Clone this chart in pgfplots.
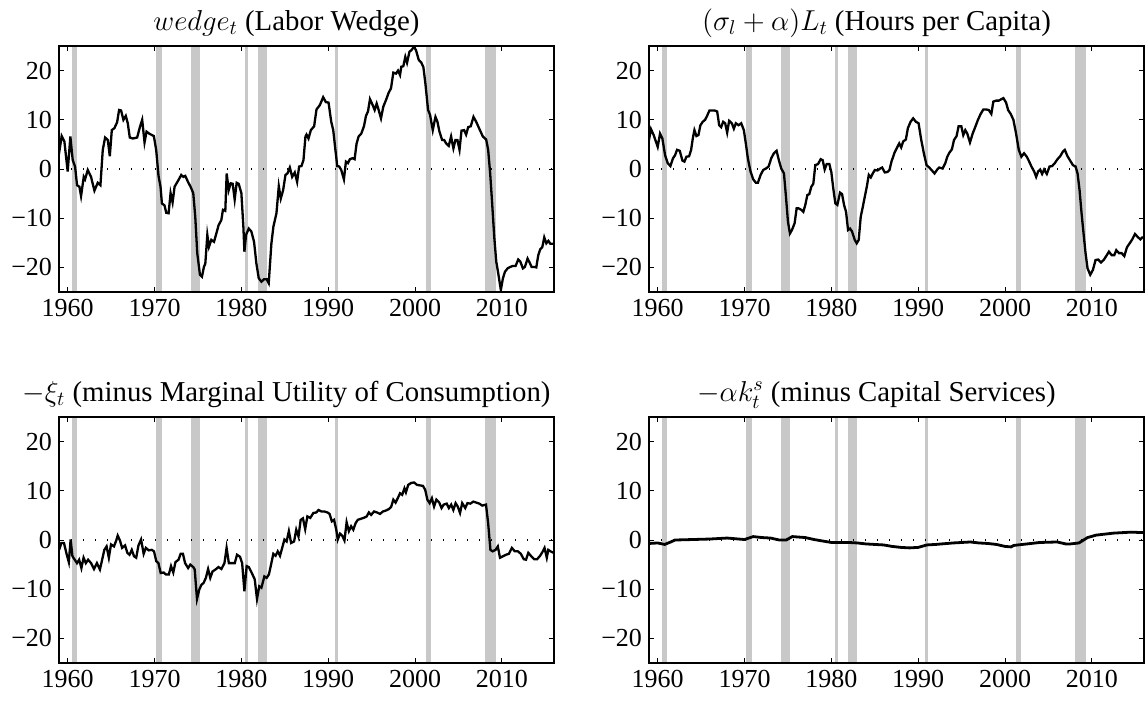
\documentclass[border=0pt]{standalone}
\usepackage{fontspec}
\setmainfont{Liberation Serif}
\usepackage{pgfplots}
\pgfplotsset{compat=1.18}
\definecolor{rec}{RGB}{200,200,200}
\newcommand{\recbar}[2]{\addplot[draw=none,fill=rec,forget plot] coordinates {(#1,-25) (#1,25) (#2,25) (#2,-25)} -- cycle;}
\newcommand{\recbars}{%
\recbar{1960.5}{1961.08}
\recbar{1970.12}{1970.88}
\recbar{1974.15}{1975.19}
\recbar{1980.38}{1980.73}
\recbar{1981.88}{1982.92}
\recbar{1990.8}{1991.15}
\recbar{2001.3}{2001.88}
\recbar{2008.08}{2009.35}
\addplot[black, line width=0.6pt, dash pattern=on 0.6pt off 5.4pt, forget plot] coordinates {(1959,0) (2016,0)};
}
\pgfplotsset{myax/.style={scale only axis, width=247.5pt, height=123pt,
  xmin=1959, xmax=2016, ymin=-25, ymax=25,
  xtick={1960,1970,1980,1990,2000,2010}, xticklabels={1960,1970,1980,1990,2000,2010},
  ytick={-20,-10,0,10,20}, yticklabels={−20,−10,0,10,20},
  tick align=inside, xtick pos=both, ytick pos=both, major tick length=2.5pt,
  axis line style={line width=0.6pt}, every tick/.style={black, line width=0.5pt},
  tick label style={font=\fontsize{13}{15}\selectfont},
  title style={font=\fontsize{14.4}{17}\selectfont, at={(0.5,1)}, anchor=base, yshift=2pt, xshift=-10pt},
  axis on top}}
\begin{document}
\begin{tikzpicture}
% top-left
\begin{axis}[myax, at={(29.5pt,-146pt)}, anchor=south west, title={$wedge_t$ (Labor Wedge)}]
\recbars
\addplot[black, line width=1.15pt] coordinates {
(1958.92,2.2) (1959.31,6.7) (1959.62,5.6) (1960.0,-0.5) (1960.31,6.6) (1960.58,1.8) (1960.85,0.5) (1961.08,-3.3) (1961.35,-3.6) (1961.54,-5.5) (1961.85,-1.6) (1962.0,-2.1) (1962.31,-0.2) (1962.69,-1.6) (1963.08,-4.4) (1963.46,-2.8) (1963.77,-3.3) (1964.04,3.9) (1964.31,6.4) (1964.62,5.9) (1964.85,2.6) (1965.08,7.9) (1965.38,8.3) (1965.69,9.5) (1965.92,12.0) (1966.15,11.9) (1966.42,10.0) (1966.69,10.8) (1966.92,9.3) (1967.15,6.4) (1967.5,6.2) (1968.0,6.4) (1968.31,8.5) (1968.58,10.0) (1968.85,5.4) (1969.08,7.6) (1969.38,7.2) (1969.92,6.7) (1970.19,3.9) (1970.46,-1.4) (1970.69,-3.6) (1970.85,-7.0) (1971.15,-7.4) (1971.35,-8.9) (1971.62,-9.0) (1971.85,-4.9) (1972.08,-6.8) (1972.31,-3.6) (1972.54,-2.9) (1972.77,-2.2) (1973.08,-1.2) (1973.31,-1.6) (1973.54,-1.4) (1973.85,-2.6) (1974.15,-3.6) (1974.46,-4.9) (1974.69,-9.7) (1974.92,-17.1) (1975.23,-21.5) (1975.46,-21.9) (1975.69,-19.9) (1975.85,-19.2) (1976.08,-13.4) (1976.27,-15.8) (1976.54,-14.4) (1976.85,-14.8) (1977.12,-13.1) (1977.38,-11.4) (1977.69,-10.4) (1977.88,-8.3) (1978.15,-8.5) (1978.31,-0.9) (1978.54,-4.3) (1978.77,-2.9) (1979.0,-3.0) (1979.23,-6.2) (1979.46,-2.8) (1979.69,-3.0) (1980.0,-4.9) (1980.23,-11.7) (1980.35,-16.8) (1980.54,-13.4) (1980.85,-12.1) (1981.15,-12.7) (1981.46,-14.8) (1981.73,-19.2) (1982.0,-22.2) (1982.31,-22.9) (1982.62,-22.4) (1982.92,-22.4) (1983.15,-23.2) (1983.46,-15.1) (1983.69,-11.7) (1984.04,-9.0) (1984.31,-3.5) (1984.54,-6.0) (1984.81,-4.3) (1985.08,-1.2) (1985.31,-0.9) (1985.58,0.3) (1985.85,-1.6) (1986.15,-0.7) (1986.42,-2.6) (1986.65,0.5) (1986.92,0.6) (1987.15,1.8) (1987.38,6.6) (1987.5,7.0) (1987.73,6.2) (1988.0,7.9) (1988.38,8.7) (1988.65,12.1) (1989.04,13.0) (1989.42,14.6) (1989.73,13.6) (1990.04,13.5) (1990.35,9.6) (1990.58,7.9) (1990.81,4.2) (1991.04,0.6) (1991.27,0.5) (1991.5,-0.2) (1991.81,-2.1) (1992.04,1.5) (1992.27,1.2) (1992.5,2.0) (1992.81,2.2) (1993.04,2.0) (1993.27,5.2) (1993.5,6.6) (1993.81,7.2) (1994.12,8.7) (1994.35,10.8) (1994.58,11.7) (1994.81,14.2) (1995.12,13.0) (1995.35,12.0) (1995.58,13.3) (1995.81,12.0) (1996.08,10.3) (1996.35,12.7) (1996.65,14.0) (1996.96,15.5) (1997.23,16.4) (1997.5,19.6) (1997.81,19.4) (1998.04,20.0) (1998.27,19.1) (1998.42,20.8) (1998.65,20.9) (1998.88,22.8) (1999.08,21.6) (1999.35,23.8) (1999.65,24.3) (1999.88,24.9) (2000.12,24.1) (2000.42,22.2) (2000.73,21.6) (2000.96,20.7) (2001.19,17.4) (2001.5,12.0) (2001.73,11.0) (2002.04,7.9) (2002.35,10.6) (2002.58,9.6) (2002.81,7.6) (2003.12,5.9) (2003.35,5.9) (2003.58,5.2) (2003.88,4.7) (2004.15,6.6) (2004.42,4.2) (2004.65,5.9) (2004.88,5.9) (2005.12,3.9) (2005.35,7.8) (2005.65,7.9) (2005.88,7.0) (2006.12,8.5) (2006.42,8.7) (2006.73,10.6) (2007.04,9.6) (2007.42,8.1) (2007.81,6.6) (2008.19,6.0) (2008.42,3.9) (2008.65,-0.9) (2008.88,-7.0) (2009.12,-13.8) (2009.35,-18.8) (2009.58,-21.2) (2009.88,-24.6) (2010.12,-22.2) (2010.35,-20.9) (2010.65,-20.2) (2010.96,-19.9) (2011.27,-19.7) (2011.58,-19.7) (2011.88,-18.4) (2012.12,-18.8) (2012.42,-20.2) (2012.65,-19.9) (2012.96,-18.2) (2013.19,-19.0) (2013.42,-19.9) (2013.73,-19.9) (2013.96,-20.0) (2014.19,-17.5) (2014.42,-16.3) (2014.65,-15.9) (2014.88,-13.9) (2015.12,-15.1) (2015.35,-14.6) (2015.58,-15.2) (2015.88,-15.2)
};
\end{axis}
% top-right
\begin{axis}[myax, at={(324.5pt,-146pt)}, anchor=south west, title={$(\sigma_l+\alpha)L_t$ (Hours per Capita)}]
\recbars
\addplot[black, line width=1.15pt] coordinates {
(1958.92,5.2) (1959.23,8.1) (1959.54,6.9) (1960.0,4.5) (1960.27,7.2) (1960.54,6.2) (1960.85,2.8) (1961.15,1.2) (1961.46,0.6) (1961.77,2.2) (1962.0,2.8) (1962.23,3.9) (1962.54,3.7) (1962.85,1.7) (1963.08,1.5) (1963.31,2.5) (1963.62,2.6) (1963.85,3.9) (1964.04,6.2) (1964.23,7.9) (1964.46,6.7) (1964.69,6.9) (1964.92,8.9) (1965.19,9.6) (1965.46,10.0) (1965.69,10.8) (1965.96,11.9) (1966.54,11.9) (1966.85,11.7) (1967.08,8.9) (1967.31,8.5) (1967.54,9.6) (1967.77,9.3) (1968.0,7.4) (1968.23,9.8) (1968.54,9.3) (1968.77,8.2) (1969.0,9.3) (1969.31,8.9) (1969.62,9.3) (1969.92,7.9) (1970.15,5.2) (1970.38,2.2) (1970.69,-0.5) (1971.0,-2.1) (1971.31,-2.8) (1971.54,-2.8) (1971.85,-1.2) (1972.15,-0.2) (1972.46,0.1) (1972.77,0.5) (1973.08,2.2) (1973.38,3.2) (1973.69,3.7) (1974.0,1.5) (1974.23,0.1) (1974.54,-0.9) (1974.77,-5.6) (1975.0,-10.7) (1975.23,-13.1) (1975.46,-12.4) (1975.77,-11.0) (1976.0,-8.0) (1976.23,-8.0) (1976.54,-8.3) (1976.77,-8.7) (1977.0,-7.3) (1977.23,-5.3) (1977.46,-5.1) (1977.69,-3.6) (1977.92,-3.0) (1978.15,0.8) (1978.46,1.0) (1978.77,2.0) (1979.0,1.8) (1979.23,-0.1) (1979.46,1.0) (1979.77,1.0) (1980.0,-0.7) (1980.23,-4.1) (1980.46,-7.0) (1980.69,-7.3) (1981.0,-4.8) (1981.23,-5.1) (1981.46,-7.3) (1981.69,-8.7) (1981.92,-12.4) (1982.15,-12.1) (1982.38,-12.7) (1982.69,-14.4) (1982.92,-15.1) (1983.15,-14.4) (1983.38,-9.7) (1983.62,-7.7) (1983.85,-5.6) (1984.08,-3.6) (1984.31,-1.2) (1984.54,-1.7) (1984.77,-0.9) (1985.0,-0.2) (1985.31,-0.3) (1985.62,0.1) (1985.85,0.3) (1986.15,-0.7) (1986.46,-0.6) (1986.69,-0.2) (1986.92,1.5) (1987.27,3.3) (1987.58,4.4) (1987.81,5.2) (1988.04,4.4) (1988.27,5.6) (1988.58,6.0) (1988.81,8.3) (1989.12,9.6) (1989.42,10.3) (1989.73,9.6) (1990.04,9.3) (1990.35,5.9) (1990.65,3.2) (1990.96,0.8) (1991.27,0.3) (1991.58,-0.3) (1991.88,-0.9) (1992.19,-0.1) (1992.42,0.3) (1992.81,0.1) (1993.12,1.2) (1993.35,2.5) (1993.58,3.3) (1993.88,4.0) (1994.12,5.9) (1994.42,6.7) (1994.65,8.7) (1994.96,8.7) (1995.19,6.9) (1995.42,7.9) (1995.65,7.2) (1995.96,5.4) (1996.27,7.2) (1996.58,8.6) (1996.88,10.0) (1997.19,11.2) (1997.5,12.1) (1997.81,12.1) (1998.12,12.0) (1998.42,11.2) (1998.65,13.7) (1998.96,13.9) (1999.27,13.9) (1999.58,14.2) (1999.81,14.4) (2000.12,13.5) (2000.35,12.0) (2000.65,11.2) (2000.96,10.0) (2001.27,7.2) (2001.58,3.9) (2001.88,2.5) (2002.19,3.2) (2002.5,2.5) (2002.73,1.7) (2003.04,0.5) (2003.35,-0.5) (2003.58,-1.6) (2003.81,-0.5) (2004.04,-0.1) (2004.27,-1.0) (2004.5,-0.1) (2004.81,-1.0) (2005.12,0.5) (2005.42,0.6) (2005.73,1.2) (2006.04,2.0) (2006.35,2.6) (2006.65,3.5) (2006.88,3.9) (2007.19,2.6) (2007.5,1.7) (2007.81,0.8) (2008.12,0.5) (2008.35,-0.9) (2008.58,-4.3) (2008.81,-9.0) (2009.04,-13.1) (2009.27,-17.1) (2009.5,-20.2) (2009.81,-21.5) (2010.12,-20.5) (2010.42,-18.5) (2010.73,-18.4) (2011.04,-19.0) (2011.35,-18.5) (2011.65,-17.7) (2011.96,-16.8) (2012.27,-17.5) (2012.58,-17.5) (2012.81,-16.5) (2013.12,-17.1) (2013.42,-17.1) (2013.73,-17.7) (2014.04,-15.9) (2014.35,-15.1) (2014.65,-14.3) (2014.96,-13.2) (2015.27,-13.8) (2015.58,-14.3) (2015.88,-13.8)
};
\end{axis}
% bottom-left
\begin{axis}[myax, at={(29.5pt,-331.5pt)}, anchor=south west, title={$-\xi_t$ (minus Marginal Utility of Consumption)}]
\recbars
\addplot[black, line width=1.15pt] coordinates {
(1959.02,-2.0) (1959.27,-0.6) (1959.57,-0.6) (1959.87,-2.8) (1960.13,-4.5) (1960.34,0.1) (1960.55,-3.3) (1960.81,-4.0) (1961.07,-4.7) (1961.32,-4.0) (1961.58,-5.7) (1961.83,-3.6) (1962.09,-4.7) (1962.35,-4.0) (1962.69,-4.7) (1963.03,-5.9) (1963.37,-4.7) (1963.71,-6.0) (1963.97,-4.0) (1964.22,-2.0) (1964.48,-1.3) (1964.74,-3.6) (1964.99,-0.9) (1965.33,-1.3) (1965.59,-0.1) (1965.76,0.9) (1966.02,-0.1) (1966.27,-1.6) (1966.61,-1.1) (1966.87,-2.6) (1967.12,-3.0) (1967.38,-2.0) (1967.64,-3.3) (1967.89,-3.6) (1968.15,-1.1) (1968.45,0.1) (1968.75,-2.8) (1969.0,-1.6) (1969.34,-2.1) (1969.68,-2.0) (1969.94,-2.3) (1970.2,-4.3) (1970.45,-4.7) (1970.71,-6.7) (1971.05,-6.6) (1971.31,-7.0) (1971.65,-7.0) (1971.9,-5.3) (1972.16,-6.6) (1972.41,-4.5) (1972.76,-4.0) (1973.01,-2.8) (1973.27,-2.8) (1973.52,-4.7) (1973.87,-5.7) (1974.12,-5.0) (1974.46,-5.5) (1974.63,-6.0) (1974.89,-12.0) (1975.15,-10.1) (1975.4,-9.1) (1975.66,-8.7) (1975.91,-7.7) (1976.17,-5.9) (1976.42,-7.7) (1976.68,-6.4) (1977.02,-6.0) (1977.36,-5.5) (1977.7,-5.9) (1978.05,-4.7) (1978.3,-1.6) (1978.56,-4.7) (1978.9,-4.7) (1979.24,-4.7) (1979.5,-3.0) (1979.84,-3.4) (1980.09,-4.7) (1980.35,-10.4) (1980.61,-5.3) (1980.86,-5.5) (1981.2,-6.7) (1981.54,-8.0) (1981.8,-12.0) (1982.06,-9.4) (1982.31,-9.7) (1982.65,-7.4) (1982.91,-7.7) (1983.17,-7.0) (1983.42,-5.0) (1983.68,-2.8) (1983.94,-3.2) (1984.19,-2.3) (1984.45,-3.2) (1984.7,-1.6) (1984.96,0.1) (1985.21,-0.3) (1985.47,1.8) (1985.73,-0.6) (1986.07,-0.3) (1986.32,2.1) (1986.58,0.7) (1986.83,4.1) (1987.09,4.4) (1987.35,2.2) (1987.6,4.8) (1987.94,4.5) (1988.29,5.5) (1988.63,5.6) (1988.88,6.1) (1989.22,5.8) (1989.56,5.8) (1989.91,5.6) (1990.16,5.3) (1990.42,3.8) (1990.67,4.1) (1990.93,2.1) (1991.1,0.1) (1991.36,1.3) (1991.61,0.9) (1991.87,-0.1) (1992.12,3.6) (1992.38,1.8) (1992.64,2.8) (1992.89,2.1) (1993.15,3.4) (1993.4,4.1) (1993.75,4.3) (1994.09,4.5) (1994.43,4.8) (1994.68,5.6) (1994.94,5.1) (1995.28,5.8) (1995.62,5.6) (1995.96,5.3) (1996.3,5.8) (1996.65,6.0) (1996.99,6.3) (1997.24,6.7) (1997.5,8.2) (1997.76,7.6) (1998.01,8.5) (1998.27,9.5) (1998.52,9.2) (1998.78,10.5) (1998.95,9.7) (1999.21,11.2) (1999.55,11.6) (1999.89,11.7) (2000.23,11.2) (2000.57,11.1) (2000.91,11.0) (2001.17,10.2) (2001.42,8.2) (2001.68,7.5) (2001.94,8.5) (2002.19,6.8) (2002.45,8.2) (2002.79,7.6) (2003.05,6.5) (2003.3,7.2) (2003.64,7.4) (2003.9,6.5) (2004.16,7.2) (2004.41,6.1) (2004.67,7.5) (2004.92,6.8) (2005.18,5.5) (2005.43,7.5) (2005.78,6.5) (2006.03,7.5) (2006.37,7.4) (2006.71,7.8) (2007.06,7.6) (2007.4,7.4) (2007.74,7.0) (2008.17,7.2) (2008.42,3.4) (2008.68,-2.0) (2008.93,-2.3) (2009.27,-2.0) (2009.53,-1.3) (2009.78,-3.6) (2010.13,-3.3) (2010.47,-3.0) (2010.81,-2.8) (2011.15,-1.6) (2011.49,-2.3) (2011.84,-2.3) (2012.18,-2.8) (2012.52,-3.9) (2012.78,-4.0) (2013.04,-2.6) (2013.38,-3.3) (2013.72,-3.9) (2014.06,-3.9) (2014.4,-3.2) (2014.65,-2.5) (2014.91,-1.6) (2015.17,-3.6) (2015.34,-2.0) (2015.6,-2.3) (2015.94,-2.6)
};
\end{axis}
% bottom-right
\begin{axis}[myax, at={(324.5pt,-331.5pt)}, anchor=south west, title={$-\alpha k^s_t$ (minus Capital Services)}]
\recbars
\addplot[black, line width=1.4pt] coordinates {
(1959,-0.7) (1960,-0.6) (1960.8,-0.9) (1961.5,-0.4) (1962,0.0) (1964,0.1) (1966,0.2) (1968,0.4) (1970,0.1) (1971,0.7) (1972,0.5) (1973,0.4) (1974,0.0) (1974.8,0.0) (1975.5,0.7) (1977,0.5) (1978,0.1) (1979,-0.2) (1980,-0.5) (1982,-0.5) (1983,-0.6) (1984,-0.8) (1986,-1.0) (1987,-1.3) (1988,-1.5) (1989,-1.6) (1990,-1.5) (1991,-1.0) (1992,-0.9) (1994,-0.6) (1996,-0.4) (1997,-0.6) (1998,-0.7) (1999,-0.9) (2000,-1.3) (2000.7,-1.4) (2001,-1.1) (2002,-0.9) (2003,-0.7) (2004,-0.5) (2006,-0.4) (2007,-0.8) (2007.5,-0.8) (2008.5,-0.6) (2009.5,0.5) (2010.5,1.0) (2011.5,1.2) (2012.5,1.4) (2013.5,1.5) (2014.5,1.6) (2016,1.5)
};
\end{axis}
\pgfresetboundingbox
\path[use as bounding box] (0,0) rectangle (572.5pt,-351pt);
\end{tikzpicture}
\end{document}
